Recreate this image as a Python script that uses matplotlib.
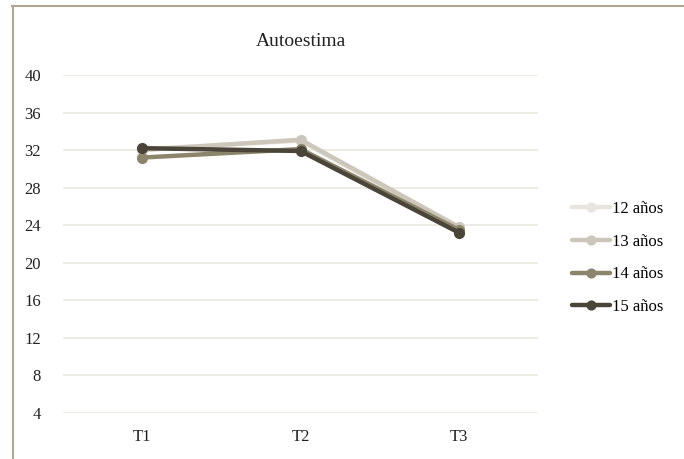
import matplotlib.pyplot as plt
from matplotlib.lines import Line2D

# datos
tiempos = ['T1', 'T2', 'T3']
grupos = ['12 años', '13 años', '14 años', '15 años']
edad_12 = [32.1, 33.0, 23.6]
edad_13 = [32.0, 33.1, 23.8]
edad_14 = [31.2, 32.1, 23.5]
edad_15 = [32.2, 31.9, 23.2]
series = [edad_12, edad_13, edad_14, edad_15]
colores = ['#e8e5de', '#cdc7bb', '#8c846b', '#4a4538']
y_ticks = [4, 8, 12, 16, 20, 24, 28, 32, 36, 40]

plt.rcParams['font.family'] = ['Liberation Serif', 'DejaVu Serif']

fig = plt.figure(figsize=(6.84, 4.59), dpi=100)
ax = fig.add_axes([63 / 684, 1 - 412.7 / 459, 475 / 684, (412.7 - 75) / 459])

x = list(range(len(tiempos)))
for nombre, vals, col in zip(grupos, series, colores):
    ax.plot(x, vals, color=col, linewidth=3.2, marker='o', markersize=7,
            label=nombre, solid_capstyle='round')

ax.set_xlim(-0.5, 2.5)
ax.set_ylim(4, 40)
ax.set_yticks(y_ticks)
ax.set_xticks(x)
ax.set_xticklabels(tiempos)
ax.tick_params(axis='both', length=0, labelsize=12, colors='#222222')
ax.tick_params(axis='y', pad=16)
ax.tick_params(axis='x', pad=12)
ax.yaxis.grid(True, color='#ebe9e2', linewidth=1.3)
ax.set_axisbelow(True)
for s in ax.spines.values():
    s.set_visible(False)

ax.set_title('Autoestima', fontsize=14, color='#222222', pad=21)

ax.legend(loc='center left', bbox_to_anchor=(1.04, 0.458), frameon=False,
          fontsize=12, handlelength=2.3, handletextpad=0.1,
          labelspacing=1.0, markerscale=0.9)

# borde del grafico
fig.add_artist(Line2D([12.5 / 684, 12.5 / 684], [0, 1 - 5.5 / 459],
                      color='#b0a694', linewidth=1.5))
fig.add_artist(Line2D([12 / 684, 1], [1 - 5.5 / 459, 1 - 5.5 / 459],
                      color='#b0a694', linewidth=1.5))

fig.savefig('out.png', dpi=100)
